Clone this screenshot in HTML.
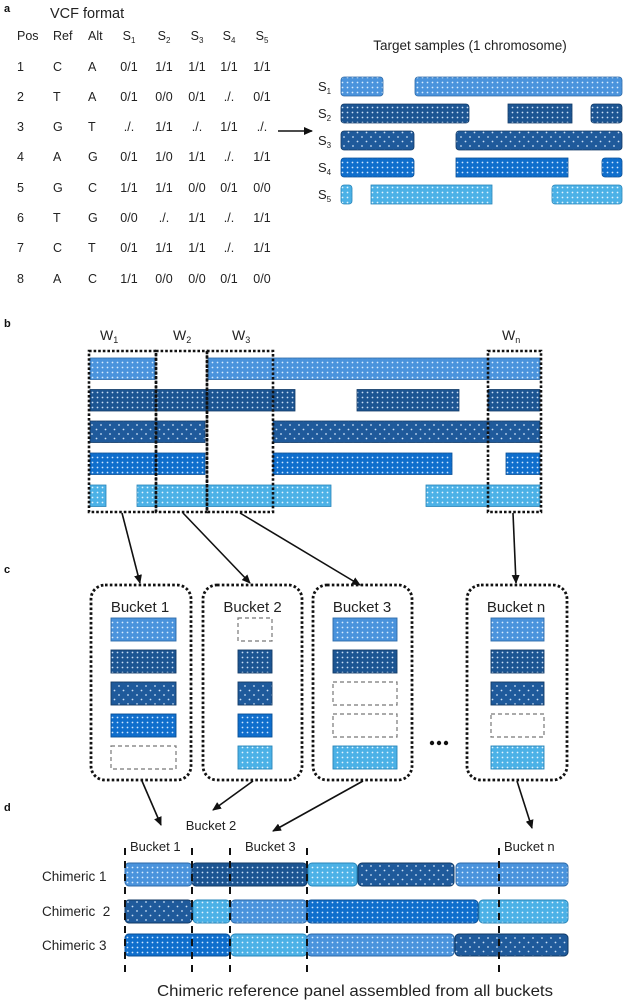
<!DOCTYPE html>
<html><head><meta charset="utf-8"><style>
html,body{margin:0;padding:0;background:#fff;}
svg{display:block;}
text{font-family:"Liberation Sans",Arial,sans-serif;fill:#222;}
.t{font-size:12.5px;}
.lab{font-size:11px;font-weight:bold;fill:#111;}
</style></head><body>
<svg width="625" height="1000" viewBox="0 0 625 1000" xmlns="http://www.w3.org/2000/svg">
<defs>
<pattern id="pL" width="5" height="5" patternUnits="userSpaceOnUse"><rect width="5" height="5" fill="#4a93dc"/><circle cx="2.5" cy="2.5" r="0.9" fill="#d8ecff"/></pattern>
<pattern id="pD" width="5" height="5" patternUnits="userSpaceOnUse"><rect width="5" height="5" fill="#1c5592"/><circle cx="2.5" cy="2.5" r="0.9" fill="#c9def5"/></pattern>
<pattern id="pS" width="9" height="9" patternUnits="userSpaceOnUse"><rect width="9" height="9" fill="#1f5a9b"/><circle cx="2" cy="2" r="0.9" fill="#c9def5"/><circle cx="6.5" cy="6.5" r="0.9" fill="#c9def5"/></pattern>
<pattern id="pM" width="5" height="5" patternUnits="userSpaceOnUse"><rect width="5" height="5" fill="#0f6ecc"/><circle cx="2.5" cy="2.5" r="0.9" fill="#cfe6ff"/></pattern>
<pattern id="pC" width="5" height="5" patternUnits="userSpaceOnUse"><rect width="5" height="5" fill="#4bb1e6"/><circle cx="2.5" cy="2.5" r="0.9" fill="#e2f4ff"/></pattern>
<marker id="ah" markerWidth="9" markerHeight="8" refX="8" refY="4" orient="auto" markerUnits="userSpaceOnUse"><path d="M0,0 L9,4 L0,8 z" fill="#111"/></marker>
</defs>

<!-- Panel a -->
<text x="4" y="12" class="lab">a</text>
<text x="50" y="18" font-size="14.5">VCF format</text>
<g class="t">
<text x="17" y="40">Pos</text><text x="53" y="40">Ref</text><text x="88" y="40">Alt</text>
<g text-anchor="middle">
<text x="129" y="40">S<tspan font-size="8" dy="3">1</tspan></text>
<text x="164" y="40">S<tspan font-size="8" dy="3">2</tspan></text>
<text x="197" y="40">S<tspan font-size="8" dy="3">3</tspan></text>
<text x="229" y="40">S<tspan font-size="8" dy="3">4</tspan></text>
<text x="262" y="40">S<tspan font-size="8" dy="3">5</tspan></text>
</g>
</g>
<g class="t">
<text x="17" y="71">1</text><text x="53" y="71">C</text><text x="88" y="71">A</text>
<text x="17" y="101">2</text><text x="53" y="101">T</text><text x="88" y="101">A</text>
<text x="17" y="131">3</text><text x="53" y="131">G</text><text x="88" y="131">T</text>
<text x="17" y="161">4</text><text x="53" y="161">A</text><text x="88" y="161">G</text>
<text x="17" y="192">5</text><text x="53" y="192">G</text><text x="88" y="192">C</text>
<text x="17" y="222">6</text><text x="53" y="222">T</text><text x="88" y="222">G</text>
<text x="17" y="252">7</text><text x="53" y="252">C</text><text x="88" y="252">T</text>
<text x="17" y="283">8</text><text x="53" y="283">A</text><text x="88" y="283">C</text>
</g>
<g class="t" text-anchor="middle">
<text x="129" y="71">0/1</text><text x="164" y="71">1/1</text><text x="197" y="71">1/1</text><text x="229" y="71">1/1</text><text x="262" y="71">1/1</text>
<text x="129" y="101">0/1</text><text x="164" y="101">0/0</text><text x="197" y="101">0/1</text><text x="229" y="101">./.</text><text x="262" y="101">0/1</text>
<text x="129" y="131">./.</text><text x="164" y="131">1/1</text><text x="197" y="131">./.</text><text x="229" y="131">1/1</text><text x="262" y="131">./.</text>
<text x="129" y="161">0/1</text><text x="164" y="161">1/0</text><text x="197" y="161">1/1</text><text x="229" y="161">./.</text><text x="262" y="161">1/1</text>
<text x="129" y="192">1/1</text><text x="164" y="192">1/1</text><text x="197" y="192">0/0</text><text x="229" y="192">0/1</text><text x="262" y="192">0/0</text>
<text x="129" y="222">0/0</text><text x="164" y="222">./.</text><text x="197" y="222">1/1</text><text x="229" y="222">./.</text><text x="262" y="222">1/1</text>
<text x="129" y="252">0/1</text><text x="164" y="252">1/1</text><text x="197" y="252">1/1</text><text x="229" y="252">./.</text><text x="262" y="252">1/1</text>
<text x="129" y="283">1/1</text><text x="164" y="283">0/0</text><text x="197" y="283">0/0</text><text x="229" y="283">0/1</text><text x="262" y="283">0/0</text>
</g>
<line x1="278" y1="131" x2="312" y2="131" stroke="#111" stroke-width="1.6" marker-end="url(#ah)"/>

<text x="470" y="50" font-size="13.5" text-anchor="middle">Target samples (1 chromosome)</text>
<g font-size="13">
<text x="318" y="91">S<tspan font-size="8" dy="3">1</tspan></text>
<text x="318" y="118">S<tspan font-size="8" dy="3">2</tspan></text>
<text x="318" y="145">S<tspan font-size="8" dy="3">3</tspan></text>
<text x="318" y="172">S<tspan font-size="8" dy="3">4</tspan></text>
<text x="318" y="199">S<tspan font-size="8" dy="3">5</tspan></text>
</g>
<g stroke-width="0.8">
<rect x="341" y="77" width="42" height="19" rx="3" fill="url(#pL)" stroke="#2e6aa8"/>
<rect x="415" y="77" width="207" height="19" rx="3" fill="url(#pL)" stroke="#2e6aa8"/>
<rect x="341" y="104" width="128" height="19" rx="3" fill="url(#pD)" stroke="#123a66"/>
<rect x="508" y="104" width="64" height="19" fill="url(#pD)" stroke="#123a66"/>
<rect x="591" y="104" width="31" height="19" rx="3" fill="url(#pD)" stroke="#123a66"/>
<rect x="341" y="131" width="73" height="19" rx="3" fill="url(#pS)" stroke="#123a66"/>
<rect x="456" y="131" width="166" height="19" rx="3" fill="url(#pS)" stroke="#123a66"/>
<rect x="341" y="158" width="73" height="19" rx="3" fill="url(#pM)" stroke="#0b4f95"/>
<rect x="456" y="158" width="112" height="19" fill="url(#pM)" stroke="#0b4f95"/>
<rect x="602" y="158" width="20" height="19" rx="3" fill="url(#pM)" stroke="#0b4f95"/>
<rect x="341" y="185" width="11" height="19" rx="3" fill="url(#pC)" stroke="#2a85b8"/>
<rect x="371" y="185" width="121" height="19" fill="url(#pC)" stroke="#2a85b8"/>
<rect x="552" y="185" width="70" height="19" rx="3" fill="url(#pC)" stroke="#2a85b8"/>
</g>

<!-- Panel b -->
<text x="4" y="327" class="lab">b</text>
<g font-size="14">
<text x="100" y="340">W<tspan font-size="9" dy="3">1</tspan></text>
<text x="173" y="340">W<tspan font-size="9" dy="3">2</tspan></text>
<text x="232" y="340">W<tspan font-size="9" dy="3">3</tspan></text>
<text x="502" y="340">W<tspan font-size="9" dy="3">n</tspan></text>
</g>
<g stroke-width="0.8">
<rect x="90" y="358" width="65" height="21.5" fill="url(#pL)" stroke="#2e6aa8"/>
<rect x="208" y="358" width="332" height="21.5" fill="url(#pL)" stroke="#2e6aa8"/>
<rect x="90" y="389.5" width="205" height="21.5" fill="url(#pD)" stroke="#123a66"/>
<rect x="357" y="389.5" width="102" height="21.5" fill="url(#pD)" stroke="#123a66"/>
<rect x="488" y="389.5" width="52" height="21.5" fill="url(#pD)" stroke="#123a66"/>
<rect x="90" y="421" width="115" height="21.5" fill="url(#pS)" stroke="#123a66"/>
<rect x="273" y="421" width="267" height="21.5" fill="url(#pS)" stroke="#123a66"/>
<rect x="90" y="453" width="115" height="21.5" fill="url(#pM)" stroke="#0b4f95"/>
<rect x="273" y="453" width="179" height="21.5" fill="url(#pM)" stroke="#0b4f95"/>
<rect x="506" y="453" width="34" height="21.5" fill="url(#pM)" stroke="#0b4f95"/>
<rect x="90" y="485" width="16" height="21.5" fill="url(#pC)" stroke="#2a85b8"/>
<rect x="137" y="485" width="194" height="21.5" fill="url(#pC)" stroke="#2a85b8"/>
<rect x="426" y="485" width="114" height="21.5" fill="url(#pC)" stroke="#2a85b8"/>
</g>
<g fill="none" stroke="#111" stroke-width="2.6" stroke-dasharray="2.6,2">
<rect x="89" y="351" width="67" height="161"/>
<rect x="156" y="351" width="51" height="161"/>
<rect x="207" y="351" width="66" height="161"/>
<rect x="488" y="351" width="53" height="161"/>
</g>

<!-- arrows b -> c -->
<g stroke="#111" stroke-width="1.6" marker-end="url(#ah)">
<line x1="122" y1="513" x2="140" y2="583"/>
<line x1="183" y1="513" x2="250" y2="583"/>
<line x1="240" y1="513" x2="360" y2="585"/>
<line x1="513" y1="513" x2="516" y2="583"/>
</g>

<!-- Panel c -->
<text x="4" y="573" class="lab">c</text>
<g fill="none" stroke="#111" stroke-width="2.8" stroke-dasharray="2.6,2.2">
<rect x="91" y="585" width="100" height="195" rx="14"/>
<rect x="203" y="585" width="99" height="195" rx="14"/>
<rect x="313" y="585" width="99" height="195" rx="14"/>
<rect x="467" y="585" width="100" height="195" rx="14"/>
</g>
<g font-size="15" text-anchor="middle">
<text x="140" y="612">Bucket 1</text>
<text x="252.5" y="612">Bucket 2</text>
<text x="362" y="612">Bucket 3</text>
<text x="516" y="612">Bucket n</text>
</g>
<g stroke-width="0.9">
<rect x="111" y="618" width="65" height="23" fill="url(#pL)" stroke="#2e6aa8"/>
<rect x="111" y="650" width="65" height="23" fill="url(#pD)" stroke="#123a66"/>
<rect x="111" y="682" width="65" height="23" fill="url(#pS)" stroke="#123a66"/>
<rect x="111" y="714" width="65" height="23" fill="url(#pM)" stroke="#0b4f95"/>
<rect x="111" y="746" width="65" height="23" fill="#fff" stroke="#777" stroke-width="1.2" stroke-dasharray="4,3"/>

<rect x="238" y="618" width="34" height="23" fill="#fff" stroke="#777" stroke-width="1.2" stroke-dasharray="4,3"/>
<rect x="238" y="650" width="34" height="23" fill="url(#pD)" stroke="#123a66"/>
<rect x="238" y="682" width="34" height="23" fill="url(#pS)" stroke="#123a66"/>
<rect x="238" y="714" width="34" height="23" fill="url(#pM)" stroke="#0b4f95"/>
<rect x="238" y="746" width="34" height="23" fill="url(#pC)" stroke="#2a85b8"/>

<rect x="333" y="618" width="64" height="23" fill="url(#pL)" stroke="#2e6aa8"/>
<rect x="333" y="650" width="64" height="23" fill="url(#pD)" stroke="#123a66"/>
<rect x="333" y="682" width="64" height="23" fill="#fff" stroke="#777" stroke-width="1.2" stroke-dasharray="4,3"/>
<rect x="333" y="714" width="64" height="23" fill="#fff" stroke="#777" stroke-width="1.2" stroke-dasharray="4,3"/>
<rect x="333" y="746" width="64" height="23" fill="url(#pC)" stroke="#2a85b8"/>

<rect x="491" y="618" width="53" height="23" fill="url(#pL)" stroke="#2e6aa8"/>
<rect x="491" y="650" width="53" height="23" fill="url(#pD)" stroke="#123a66"/>
<rect x="491" y="682" width="53" height="23" fill="url(#pS)" stroke="#123a66"/>
<rect x="491" y="714" width="53" height="23" fill="#fff" stroke="#777" stroke-width="1.2" stroke-dasharray="4,3"/>
<rect x="491" y="746" width="53" height="23" fill="url(#pC)" stroke="#2a85b8"/>
</g>
<g fill="#111">
<circle cx="432" cy="743" r="2.2"/><circle cx="439" cy="743" r="2.2"/><circle cx="446" cy="743" r="2.2"/>
</g>

<!-- arrows c -> d -->
<g stroke="#111" stroke-width="1.6" marker-end="url(#ah)">
<line x1="142" y1="781" x2="161" y2="825"/>
<line x1="253" y1="781" x2="213" y2="810"/>
<line x1="363" y1="781" x2="273" y2="831"/>
<line x1="517" y1="781" x2="532" y2="828"/>
</g>

<!-- Panel d -->
<text x="4" y="811" class="lab">d</text>
<g font-size="13">
<text x="211" y="830" text-anchor="middle">Bucket 2</text>
<text x="130" y="851">Bucket 1</text>
<text x="245" y="851">Bucket 3</text>
<text x="504" y="851">Bucket n</text>
</g>
<g font-size="13.5">
<text x="42" y="881">Chimeric 1</text>
<text x="42" y="916" xml:space="preserve">Chimeric  2</text>
<text x="42" y="950">Chimeric 3</text>
</g>
<g stroke-width="1">
<rect x="125" y="863" width="67" height="23" rx="4" fill="url(#pL)" stroke="#2e6aa8"/>
<rect x="192" y="863" width="115" height="23" rx="4" fill="url(#pD)" stroke="#123a66"/>
<rect x="308" y="863" width="49" height="23" rx="4" fill="url(#pC)" stroke="#2a85b8"/>
<rect x="358" y="863" width="96" height="23" rx="4" fill="url(#pS)" stroke="#123a66"/>
<rect x="456" y="863" width="112" height="23" rx="4" fill="url(#pL)" stroke="#2e6aa8"/>

<rect x="125" y="900" width="67" height="23" rx="4" fill="url(#pS)" stroke="#123a66"/>
<rect x="193" y="900" width="37" height="23" rx="4" fill="url(#pC)" stroke="#2a85b8"/>
<rect x="231" y="900" width="76" height="23" rx="4" fill="url(#pL)" stroke="#2e6aa8"/>
<rect x="307" y="900" width="171" height="23" rx="4" fill="url(#pM)" stroke="#0b4f95"/>
<rect x="479" y="900" width="89" height="23" rx="4" fill="url(#pC)" stroke="#2a85b8"/>

<rect x="125" y="934" width="105" height="22" rx="4" fill="url(#pM)" stroke="#0b4f95"/>
<rect x="231" y="934" width="76" height="22" rx="4" fill="url(#pC)" stroke="#2a85b8"/>
<rect x="307" y="934" width="147" height="22" rx="4" fill="url(#pL)" stroke="#2e6aa8"/>
<rect x="455" y="934" width="113" height="22" rx="4" fill="url(#pS)" stroke="#123a66"/>
</g>
<g stroke="#111" stroke-width="2" stroke-dasharray="7,6">
<line x1="125" y1="848" x2="125" y2="974"/>
<line x1="192" y1="848" x2="192" y2="974"/>
<line x1="230" y1="848" x2="230" y2="974"/>
<line x1="307" y1="848" x2="307" y2="974"/>
<line x1="499" y1="848" x2="499" y2="974"/>
</g>
<text x="355" y="996" font-size="16" text-anchor="middle" textLength="396" lengthAdjust="spacingAndGlyphs">Chimeric reference panel assembled from all buckets</text>
</svg>
</body></html>
